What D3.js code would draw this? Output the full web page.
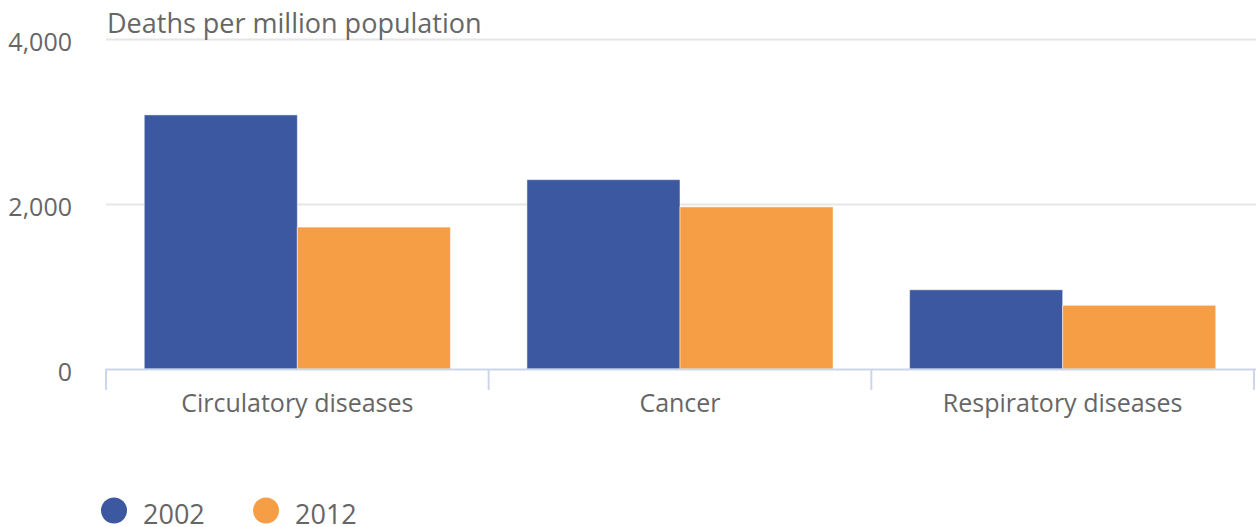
<!DOCTYPE html>
<html><head><meta charset="utf-8">
<script src="https://cdn.jsdelivr.net/npm/d3@7"></script>
<style>body{margin:0;background:#fff;}svg{display:block;font-family:"Open Sans",sans-serif;}</style>
</head><body>
<svg id="c" width="1256" height="527"></svg>
<script>
const categories = ["Circulatory diseases", "Cancer", "Respiratory diseases"];
const seriesNames = ["2002", "2012"];
const values2002 = [3080, 2295, 960];
const values2012 = [1720, 1965, 772];
const yTicks = [0, 2000, 4000];
const colors = ["#3c58a0", "#f59e45"];

(function(){
const svg = d3.select("#c");
const pLeft = 106, pRight = 1254, pTop = 39, pBottom = 369;
const x0 = d3.scaleBand().domain(categories).range([pLeft, pRight]).paddingInner(0).paddingOuter(0);
const x1 = d3.scaleBand().domain(seriesNames).range([0, x0.bandwidth()]).paddingInner(0).paddingOuter(0.25);
const y = d3.scaleLinear().domain([0, 4000]).range([pBottom, pTop]);

svg.append("g").selectAll("line").data(yTicks.filter(d => d > 0)).join("line")
  .attr("x1", pLeft).attr("x2", pRight + 2)
  .attr("y1", d => Math.round(y(d)) + 0.5).attr("y2", d => Math.round(y(d)) + 0.5)
  .attr("stroke", "#e6e6e6").attr("stroke-width", 2);

svg.append("g").selectAll("text").data(yTicks).join("text")
  .attr("x", 72).attr("y", d => y(d) + 12)
  .attr("text-anchor", "end").attr("font-size", 25).attr("fill", "#666")
  .text(d => d3.format(",")(d));

svg.append("text").attr("x", 107).attr("y", 33).attr("font-size", 27).attr("fill", "#666")
  .text("Deaths per million population");

const data = categories.map((c, i) => ({c, vals: [values2002[i], values2012[i]]}));
const g = svg.append("g").selectAll("g").data(data).join("g")
  .attr("transform", d => `translate(${x0(d.c)},0)`);
g.selectAll("rect").data(d => d.vals.map((v, j) => ({v, s: seriesNames[j], j}))).join("rect")
  .attr("x", d => x1(d.s)).attr("width", x1.bandwidth())
  .attr("y", d => y(d.v)).attr("height", d => y(0) - y(d.v))
  .attr("fill", d => colors[d.j]).attr("stroke", "#fff").attr("stroke-opacity", 0.5).attr("stroke-width", 1);

svg.append("line").attr("x1", pLeft).attr("x2", pRight + 2).attr("y1", pBottom + 0.5).attr("y2", pBottom + 0.5)
  .attr("stroke", "#ccd6eb").attr("stroke-width", 2);
const tickPos = categories.map(c => x0(c)).concat([pRight]);
svg.append("g").selectAll("line").data(tickPos).join("line")
  .attr("x1", d => d).attr("x2", d => d).attr("y1", pBottom).attr("y2", pBottom + 21)
  .attr("stroke", "#ccd6eb").attr("stroke-width", 2);

svg.append("g").selectAll("text").data(categories).join("text")
  .attr("x", d => x0(d) + x0.bandwidth() / 2).attr("y", 412)
  .attr("text-anchor", "middle").attr("font-size", 25).attr("fill", "#666")
  .text(d => d);

const legendX = [114, 266];
const lg = svg.append("g").selectAll("g").data(seriesNames).join("g")
  .attr("transform", (d, i) => `translate(${legendX[i]},510.5)`);
lg.append("circle").attr("r", 13).attr("fill", (d, i) => colors[i]);
lg.append("text").attr("x", 29).attr("y", 13).attr("font-size", 27).attr("fill", "#666").text(d => d);
})();
</script>
</body></html>
